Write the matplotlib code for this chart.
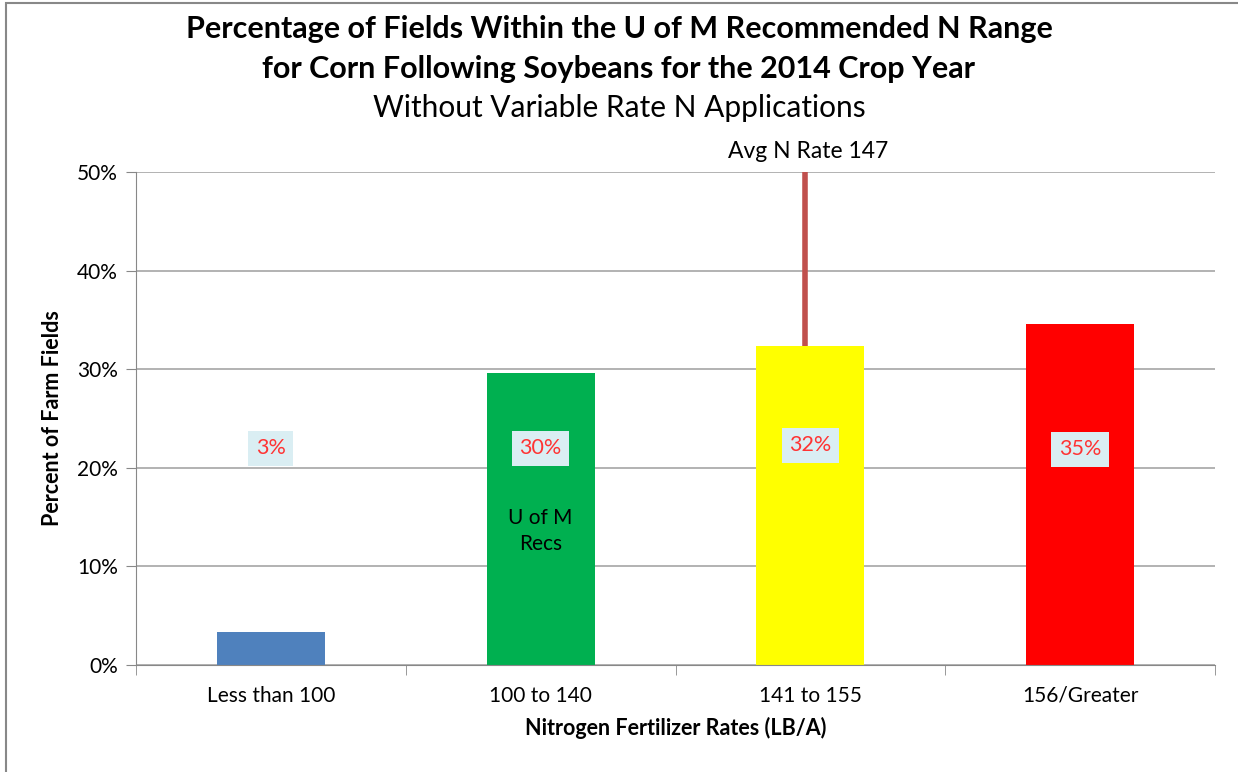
import numpy as np
import matplotlib.pyplot as plt
from matplotlib.patches import Rectangle

plt.rcParams['font.family'] = ['Lato', 'DejaVu Sans']

categories = ["Less than 100", "100 to 140", "141 to 155", "156/Greater"]
percents = [3.3, 29.6, 32.4, 34.6]
bar_labels = ["3%", "30%", "32%", "35%"]
bar_colors = ["#4F81BD", "#00B050", "#FFFF00", "#FF0000"]
avg_rate_pos = 1.98   # where the avg N rate line sits on the category axis
avg_rate_text = "Avg N Rate 147"

fig = plt.figure(figsize=(12.38, 7.72), dpi=100)
ax = fig.add_axes([136/1238, 1-665/772, (1215-136)/1238, (665-172)/772])

x = np.arange(len(categories))
ax.bar(x, percents, width=0.4, color=bar_colors, zorder=2)

# avg N rate line, from top of the yellow bar up to the top of the chart
ax.plot([avg_rate_pos, avg_rate_pos], [percents[2], 50], color="#C0504D",
        lw=4, solid_capstyle='butt', zorder=3, clip_on=False)
ax.text(avg_rate_pos + 0.01, 51.0, avg_rate_text, ha='center', va='bottom',
        fontsize=16.5)

# data labels
label_y = [22.0, 22.0, 22.3, 21.9]
for xi, lab, yy in zip(x, bar_labels, label_y):
    ax.text(xi, yy, lab, ha='center', va='center', fontsize=15.5, color="#FF3333",
            bbox=dict(boxstyle='square,pad=0.35', fc="#DAEEF3", ec='none'), zorder=4)

ax.text(1, 13.6, "U of M\nRecs", ha='center', va='center', fontsize=15,
        linespacing=1.35, zorder=4)

ax.set_xlim(-0.5, 3.5)
ax.set_ylim(0, 50)
ax.set_yticks(np.arange(0, 51, 10))
ax.set_yticklabels([f"{v}%" for v in range(0, 51, 10)], fontsize=15)
ax.yaxis.grid(True, color="#A6A6A6", lw=1.2, zorder=0)
ax.set_axisbelow(True)
ax.tick_params(axis='y', length=7, color="#888888", pad=6)

ax.set_xticks(x)
ax.set_xticklabels(categories, fontsize=15)
ax.set_xticks(np.arange(-0.5, 3.6, 1), minor=True)
ax.tick_params(axis='x', which='major', length=0, pad=15)
ax.tick_params(axis='x', which='minor', length=7, color="#888888")

for s in ['top', 'right']:
    ax.spines[s].set_visible(False)
ax.spines['left'].set_color("#888888")
ax.spines['bottom'].set_color("#888888")

ax.set_xlabel("Nitrogen Fertilizer Rates (LB/A)", fontsize=15.5, fontweight='bold',
              labelpad=8)
ax.set_ylabel("Percent of Farm Fields", fontsize=15.5, fontweight='bold', labelpad=10)

fig.text(0.5, 1-29/772, "Percentage of Fields Within the U of M Recommended N Range",
         ha='center', va='center', fontsize=22, fontweight='bold')
fig.text(0.5, 1-69/772, "for Corn Following Soybeans for the 2014 Crop Year",
         ha='center', va='center', fontsize=22, fontweight='bold')
fig.text(0.5, 1-108/772, "Without Variable Rate N Applications",
         ha='center', va='center', fontsize=21.5)

# outer chart border
fig.patches.append(Rectangle((6/1238, -0.01), 1.1, 1-3/772 + 0.01,
                             transform=fig.transFigure, fill=False,
                             ec="#888888", lw=1.5))

fig.savefig("out.png", dpi=100)
